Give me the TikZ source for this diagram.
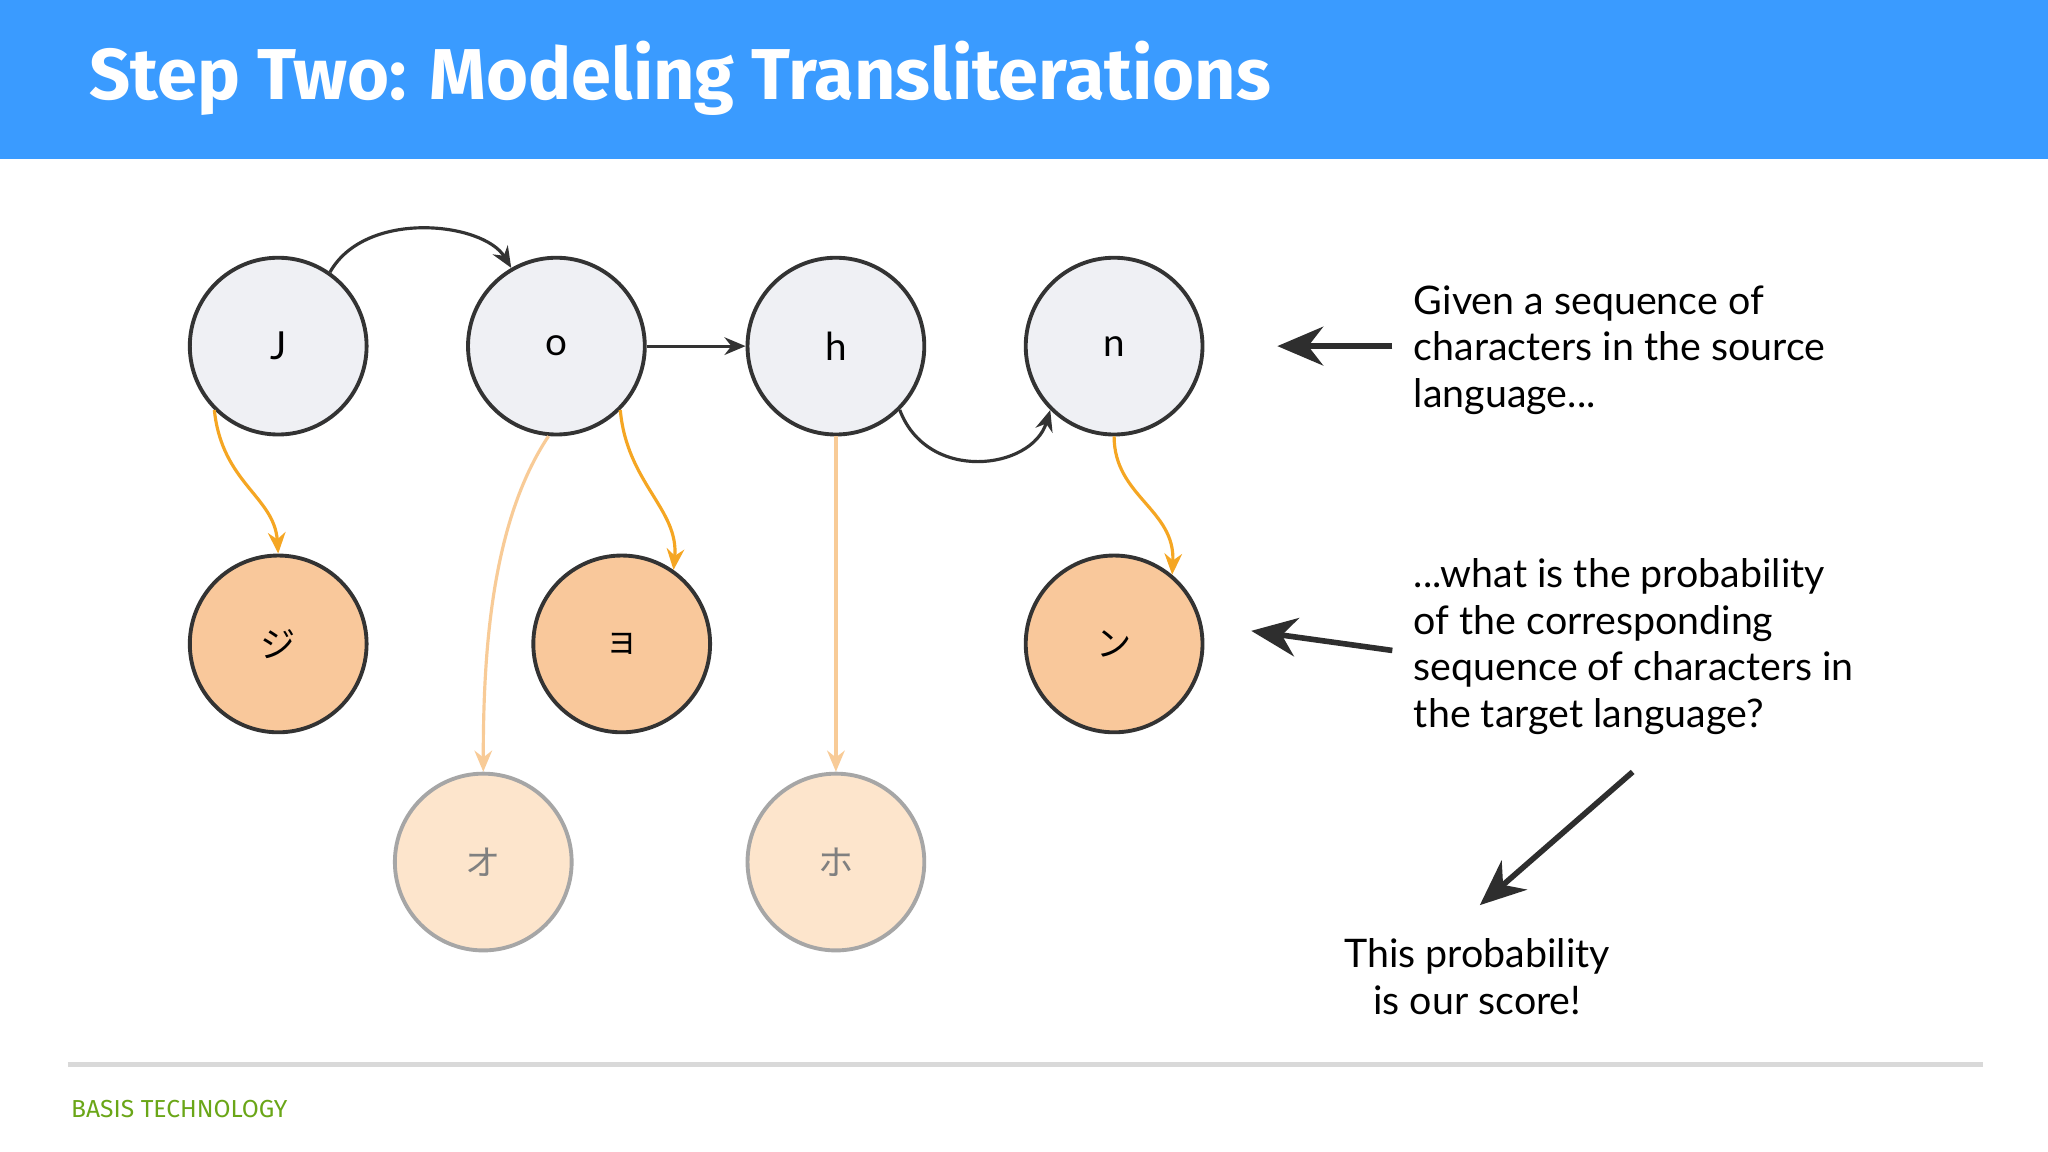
\documentclass[tikz,border=0pt]{standalone}
\usepackage{fontspec}
\setmainfont{Lato}
\newfontfamily\titlefont{Fira Sans}
\newfontfamily\jpfont{Noto Sans CJK JP}
\usetikzlibrary{arrows.meta}
\definecolor{barblue}{HTML}{3A9BFF}
\definecolor{srcfill}{HTML}{EFF0F4}
\definecolor{tgtfill}{HTML}{F9C89B}
\definecolor{fadefill}{HTML}{FDE5CC}
\definecolor{orangeln}{HTML}{F5A623}
\definecolor{lightorange}{HTML}{F8CB97}
\definecolor{darkln}{HTML}{333333}
\definecolor{basisgreen}{HTML}{6AA617}
\tikzset{
  src/.style={circle,draw=darkln,line width=1.1pt,fill=srcfill,minimum size=50.3pt,inner sep=0pt,font=\fontsize{11}{13}\selectfont},
  tgt/.style={circle,draw=darkln,line width=1.1pt,fill=tgtfill,minimum size=50.3pt,inner sep=0pt,font=\jpfont\fontsize{10}{12}\selectfont},
  fade/.style={circle,draw=gray!70,line width=1.1pt,fill=fadefill,minimum size=50.3pt,inner sep=0pt,text=gray,font=\jpfont\fontsize{10}{12}\selectfont},
  link/.style={draw=darkln,line width=0.9pt,-{Stealth[length=6pt,width=5pt]}},
  orlink/.style={draw=orangeln,line width=0.9pt,-{Stealth[length=6pt,width=5pt]}},
  ltlink/.style={draw=lightorange,line width=0.9pt,-{Stealth[length=6pt,width=5pt]}},
  bigarrow/.style={draw=darkln!90!black,line width=1.6pt,-{Stealth[length=13pt,width=11pt]}},
  side/.style={anchor=west,align=left,font=\fontsize{11.2}{13.3}\selectfont,inner sep=0pt}
}
\begin{document}
\begin{tikzpicture}[x=0.013061cm,y=-0.013061cm]
\useasboundingbox (0,0) rectangle (1568,882);
\fill[white] (0,0) rectangle (1568,882);
\fill[barblue] (0,0) rectangle (1568,122);
\node[anchor=west,text=white,font=\titlefont\bfseries\fontsize{20.5}{24}\selectfont,inner sep=0pt] (title) at (68,60) {Step Two: Modeling Transliterations};

\node[src] (J) at (213,265) {J};
\node[src] (o) at (426,265) {o};
\node[src] (h) at (640,265) {h};
\node[src] (n) at (853,265) {n};
\node[tgt] (ji) at (213,493) {ジ};
\node[tgt] (yo) at (476,493) {ョ};
\node[tgt] (nn) at (853,493) {ン};
\node[fade] (oo) at (370,660) {オ};
\node[fade] (ho) at (640,660) {ホ};

\draw[link] (J.55) .. controls (280,160) and (370,170) .. (o.120);
\draw[link] (o.east) -- (h.west);
\draw[link] (h.-45) .. controls (710,370) and (790,360) .. (n.-135);
\draw[orlink] (J.-135) .. controls (170,370) and (210,380) .. (ji.north);
\draw[orlink] (o.-45) .. controls (480,370) and (520,390) .. (yo.55);
\draw[orlink] (n.-90) .. controls (853,380) and (900,390) .. (nn.50);
\draw[ltlink] (o.-95) .. controls (376,400) and (370,500) .. (oo.north);
\draw[ltlink] (h.south) -- (ho.north);

\node[side] (t1) at (1082,268) {Given a sequence of\\characters in the source\\language...};
\node[side] (t2) at (1082,495) {...what is the probability\\of the corresponding\\sequence of characters in\\the target language?};
\node[align=center,font=\fontsize{11.2}{13.3}\selectfont,inner sep=0pt] (t3) at (1131,748) {This probability\\is our score!};
\coordinate (a1s) at (1066,265); \coordinate (a1e) at (978,265);
\coordinate (a2s) at (1066,498); \coordinate (a2e) at (958,483);
\coordinate (a3s) at (1250,591); \coordinate (a3e) at (1133,693);
\draw[bigarrow] (a1s) -- (a1e);
\draw[bigarrow] (a2s) -- (a2e);
\draw[bigarrow] (a3s) -- (a3e);

\draw[gray!30,line width=1.2pt] (52,815) -- (1518,815);
\node[anchor=west,text=basisgreen,font=\titlefont\fontsize{7}{8}\selectfont,inner sep=0pt] (foot) at (54,849) {BASIS TECHNOLOGY};
\end{tikzpicture}
\end{document}
